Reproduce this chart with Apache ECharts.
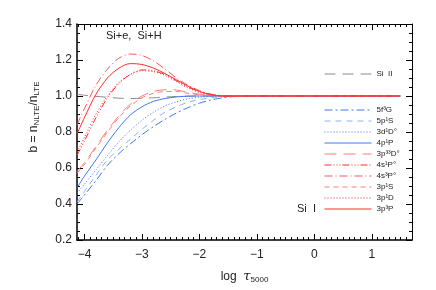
<!DOCTYPE html>
<html><head><meta charset="utf-8">
<script src="https://cdn.jsdelivr.net/npm/echarts@6/dist/echarts.min.js"></script>
<style>html,body{margin:0;padding:0;background:#fff;}#c{width:436px;height:290px;}</style>
</head><body><div id="c"></div>
<script>
// log tau_5000 grid
const tau = [-4.13,-4.0,-3.8,-3.6,-3.4,-3.2,-3.0,-2.8,-2.6,-2.4,-2.2,-2.0,-1.8,-1.6,-1.4,-1.2,-1.0,-0.5,0.0,0.5,1.0,1.5];
// departure coefficients
const bSiII  = [1.010,1.004,0.998,0.993,0.988,0.986,0.987,0.990,0.994,0.997,0.999,1.0,1.0,1.0,1.0,1.0,1.0,1.0,1.0,1.0,1.0,1.0];
const b5f3G  = [0.40,0.45,0.53,0.615,0.68,0.735,0.785,0.83,0.87,0.905,0.935,0.96,0.978,0.99,0.997,1.0,1.0,1.0,1.0,1.0,1.0,1.0];
const b5p1S  = [0.41,0.47,0.56,0.645,0.705,0.76,0.815,0.865,0.91,0.94,0.965,0.98,0.99,0.996,1.0,1.0,1.0,1.0,1.0,1.0,1.0,1.0];
const b3d1D  = [0.46,0.51,0.59,0.67,0.745,0.81,0.865,0.91,0.945,0.968,0.984,0.993,0.998,1.0,1.0,1.0,1.0,1.0,1.0,1.0,1.0,1.0];
const b4p1P  = [0.49,0.555,0.645,0.74,0.825,0.895,0.94,0.97,0.986,0.995,0.999,1.0,1.0,1.0,1.0,1.0,1.0,1.0,1.0,1.0,1.0,1.0];
const b3p33D = [0.58,0.63,0.72,0.81,0.89,0.955,1.0,1.025,1.035,1.033,1.02,1.01,1.003,1.0,1.0,1.0,1.0,1.0,1.0,1.0,1.0,1.0];
const b4s1P  = [0.67,0.75,0.88,0.99,1.07,1.12,1.145,1.14,1.12,1.085,1.05,1.025,1.008,1.0,1.0,1.0,1.0,1.0,1.0,1.0,1.0,1.0];
const b4s3P  = [0.84,0.93,1.06,1.15,1.21,1.233,1.225,1.195,1.15,1.10,1.06,1.03,1.01,1.002,1.0,1.0,1.0,1.0,1.0,1.0,1.0,1.0];
const b3p1S  = [0.57,0.62,0.71,0.80,0.88,0.945,0.99,1.015,1.025,1.025,1.015,1.007,1.002,1.0,1.0,1.0,1.0,1.0,1.0,1.0,1.0,1.0];
const b3p1D  = [0.69,0.77,0.90,1.0,1.075,1.12,1.14,1.135,1.115,1.08,1.045,1.02,1.005,1.0,1.0,1.0,1.0,1.0,1.0,1.0,1.0,1.0];
const b3p3P  = [0.79,0.88,1.01,1.10,1.155,1.18,1.175,1.155,1.125,1.09,1.055,1.025,1.008,1.0,1.0,1.0,1.0,1.0,1.0,1.0,1.0,1.0];

const names = ['Si  II','5f³G','5p¹S','3d¹D°','4p¹P','3p³³D°','4s¹P°','4s³P°','3p¹S','3p¹D','3p³P'];
const xTickLabels = [-4,-3,-2,-1,0,1];
const yTickLabels = [0.2,0.4,0.6,0.8,1.0,1.2,1.4];

const xMinor = []; for (let i = -41; i <= 17; i++) xMinor.push(i/10);
const yMinor = []; for (let i = 4; i <= 28; i++) yMinor.push(i/20);

const FONT = 'Liberation Sans';
const BLUE = '#3a7bf0', LBLUE = '#8ab4fa', RED = '#ff2a2a', LRED = '#ff7a7a', MRED = '#ff5555';

const styles = [
  {c:'#8c8c8c', t:[11,7]},
  {c:BLUE, t:[8,3,2,3]},
  {c:LBLUE, t:[6,5]},
  {c:BLUE, t:[1,2]},
  {c:BLUE, t:'solid'},
  {c:LRED, t:[12,7]},
  {c:RED, t:[7,2,1,2,1,2,1,2]},
  {c:MRED, t:[8,3,1,3]},
  {c:LRED, t:[5,4]},
  {c:RED, t:[1,2]},
  {c:RED, t:'solid'}
];
const dataSets = [bSiII,b5f3G,b5p1S,b3d1D,b4p1P,b3p33D,b4s1P,b4s3P,b3p1S,b3p1D,b3p3P];

const series = dataSets.map((arr, k) => ({
  name: names[k], type: 'line', smooth: 0.3, symbol: 'none', showSymbol: false,
  data: tau.map((t, i) => [t, arr[i]]),
  lineStyle: {color: styles[k].c, width: 1, type: styles[k].t},
  itemStyle: {color: styles[k].c},
  z: 3
}));

const fmt = v => (v < 0 ? '\u2212' + Math.abs(v) : String(v));
function xAx(pos, ticks, len, label, lw, name) {
  const a = {type:'value', min:-4.13, max:1.7, position:pos,
    axisLine:{show: lw>0, onZero:false, lineStyle:{color:'#000', width:lw||1}},
    axisTick:{show:true, inside:true, length:len, customValues:ticks, lineStyle:{color:'#000', width:1}},
    axisLabel:{show:label, customValues:xTickLabels, formatter:fmt, fontSize:12, color:'#222', fontFamily:FONT, margin:9},
    splitLine:{show:false}};
  if (name) {
    a.name = 'log  {t|τ}{s|5000}';
    a.nameLocation = 'middle';
    a.nameGap = 30;
    a.nameTextStyle = {fontSize:12, color:'#222', fontFamily:FONT, padding:[0,0,0,0],
      rich:{t:{fontSize:13, color:'#222', fontFamily:'DejaVu Serif', fontStyle:'italic'},
            s:{fontSize:8, color:'#222', fontFamily:FONT, padding:[6,0,0,0]}}};
  }
  return a;
}
function yAx(pos, ticks, len, label, lw, name) {
  const a = {type:'value', min:0.2, max:1.4, position:pos,
    axisLine:{show: lw>0, onZero:false, lineStyle:{color:'#000', width:lw||1}},
    axisTick:{show:true, inside:true, length:len, customValues:ticks, lineStyle:{color:'#000', width:1}},
    axisLabel:{show:label, customValues:yTickLabels, formatter:v=>v.toFixed(1), fontSize:12, color:'#222', fontFamily:FONT, margin:5},
    splitLine:{show:false}};
  if (name) {
    a.name = 'b = n{s|NLTE}/n{s|LTE}';
    a.nameLocation = 'middle';
    a.nameGap = 36;
    a.nameRotate = 90;
    a.nameTextStyle = {fontSize:12, color:'#222', fontFamily:FONT, padding:[0,0,0,30],
      rich:{s:{fontSize:8, color:'#222', fontFamily:FONT, padding:[6,0,0,0]}}};
  }
  return a;
}

const legText = {fontSize:8, color:'#222', fontFamily:FONT};
const chart = echarts.init(document.getElementById('c'), null, {renderer:'canvas'});
chart.setOption({
  animation:false,
  backgroundColor:'#fff',
  grid:{left:77, right:24, top:24, bottom:50},
  xAxis:[xAx('bottom', xMinor, 3, true, 1.5, true), xAx('bottom', xTickLabels, 6, false, 0),
         xAx('top', xMinor, 3, false, 1), xAx('top', xTickLabels, 6, false, 0)],
  yAxis:[yAx('left', yMinor, 3, true, 1.5, true), yAx('left', yTickLabels, 6, false, 0),
         yAx('right', yMinor, 3, false, 1), yAx('right', yTickLabels, 6, false, 0)],
  legend:[
    {data:[names[0]], orient:'vertical', left:324, top:70, itemWidth:47, itemHeight:10, padding:0, selectedMode:false,
     textStyle:legText, itemStyle:{opacity:0}, lineStyle:{width:1}},
    {data:names.slice(1), orient:'vertical', left:324, top:106, itemWidth:47, itemHeight:10, itemGap:3, padding:0, selectedMode:false,
     textStyle:legText, itemStyle:{opacity:0}, lineStyle:{width:1}}
  ],
  series: series,
  graphic:[
    {type:'text', left:106, top:30, style:{text:'Si+e,  Si+H', fontSize:11, fill:'#222', fontFamily:FONT}},
    {type:'text', left:297, top:203, style:{text:'Si  I', fontSize:11, fill:'#222', fontFamily:FONT}}
  ]
});
</script></body></html>
